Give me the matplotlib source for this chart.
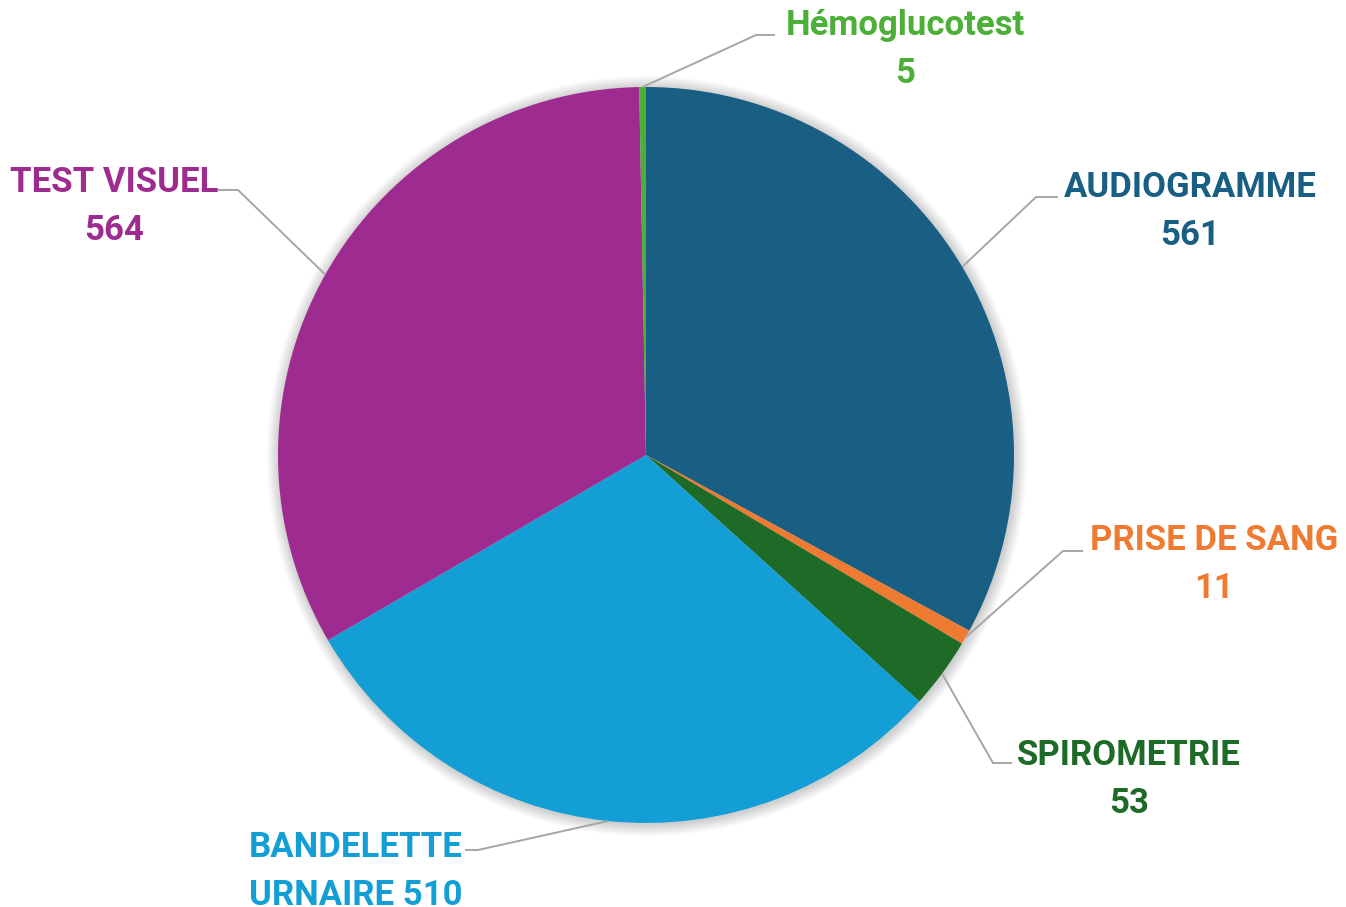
import matplotlib
matplotlib.use("Agg")
import matplotlib.pyplot as plt
import numpy as np

categories = ["AUDIOGRAMME", "PRISE DE SANG", "SPIROMETRIE", "BANDELETTE", "TEST VISUEL", "Hémoglucotest"]
values = [561, 11, 53, 510, 564, 5]
colors = ["#195e83", "#ef7b33", "#1d6b26", "#139fd6", "#9e2c90", "#4caf38"]

W, H = 1346, 907
fig = plt.figure(figsize=(W / 100, H / 100), dpi=100)
ax = fig.add_axes([0, 0, 1, 1])

def Y(y):
    return H - y

cx, cy, R = 646, Y(455), 368

# soft shadow
for i in range(12):
    ax.add_patch(plt.Circle((cx + 1, cy - 1), R + 12 - i, color="black", alpha=0.014, lw=0, zorder=0))

wedges, _ = ax.pie(values, colors=colors, startangle=90, counterclock=False,
                   center=(cx, cy), radius=R, frame=True,
                   wedgeprops=dict(linewidth=0))
ax.set_xlim(0, W)
ax.set_ylim(0, H)
ax.set_aspect("equal")
ax.axis("off")

# layout: elbow (x, y), line end x, text x, baseline of line 1, alignment
layout = [
    (1036, 197, 1058, 1190, 197, "center"),
    (1063, 551, 1083, 1214, 550, "center"),
    (993, 763, 1012, 1129, 765, "center"),
    (478, 850, 465, 249, 857, "left"),
    (238, 190, 218, 114, 192, "center"),
    (756, 35, 775, 905, 35, "center"),
]
line_gap = 48

font = dict(family=["Roboto", "DejaVu Sans"], fontweight="bold", fontsize=25)

for w, cat, val, (ex, ey, tx, lx, ly, ha), c in zip(wedges, categories, values, layout, colors):
    theta = np.deg2rad((w.theta1 + w.theta2) / 2)
    px, py = cx + R * np.cos(theta), cy + R * np.sin(theta)
    ax.plot([px, ex, tx], [py, Y(ey), Y(ey)], color="#a6a6a6", lw=1.4, zorder=3,
            solid_capstyle="butt", solid_joinstyle="miter")
    if cat == "BANDELETTE":
        line1, line2 = cat, f"URNAIRE {val}"
    else:
        line1, line2 = cat, f"{val}"
    ax.text(lx, Y(ly), line1, color=c, ha=ha, va="baseline", **font)
    ax.text(lx, Y(ly + line_gap), line2, color=c, ha=ha, va="baseline", **font)

fig.savefig("out.png", dpi=100)
